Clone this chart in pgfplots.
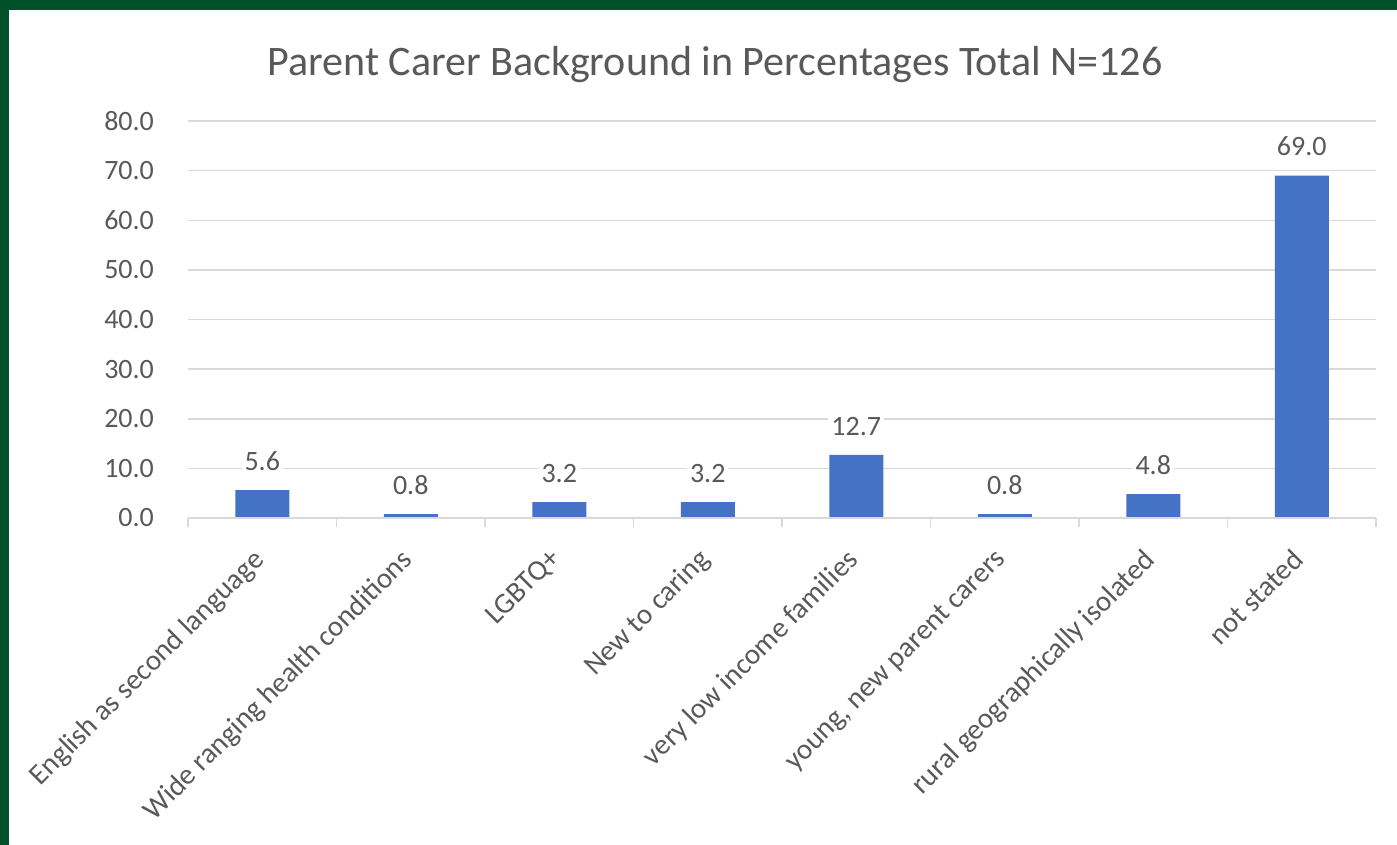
\documentclass[border=0pt]{standalone}
\usepackage{pgfplots}
\pgfplotsset{compat=1.18}
\usepackage{fontspec}
\setmainfont{Carlito}
\definecolor{bargreen}{HTML}{4472C4}
\definecolor{frame}{HTML}{00502A}
\definecolor{txt}{HTML}{595959}
\definecolor{gridgray}{HTML}{D9D9D9}
\begin{document}
\begin{tikzpicture}
\useasboundingbox (0pt,0pt) rectangle (698.5pt,-422.5pt);
\fill[frame] (0pt,0pt) rectangle (698.5pt,-422.5pt);
\fill[white] (4.5pt,-5pt) rectangle (698.5pt,-422.5pt);
\node[text=txt,font=\fontsize{21}{25}\selectfont] at (357.5pt,-32.5pt) {Parent Carer Background in Percentages Total N=126};
\begin{axis}[
  at={(94pt,-259pt)}, anchor=south west,
  scale only axis, width=594pt, height=198.5pt,
  xmin=-0.5, xmax=7.5, ymin=0, ymax=80,
  ytick={0,10,...,80},
  ymajorgrids=true, xmajorgrids=false,
  grid style={draw=gridgray,line width=0.75pt},
  axis line style={draw=none},
  every x tick label/.append style={font=\fontsize{14.5}{17}\selectfont,text=txt},
  every y tick label/.append style={font=\fontsize{14}{17}\selectfont,text=txt},
  /pgf/number format/fixed,
  /pgf/number format/fixed zerofill,
  /pgf/number format/precision=1,
  /pgf/number format/assume math mode=true,
  ytick style={draw=none},
  xtick={-0.5,0.5,...,7.5},
  x tick label as interval,
  xtick style={draw=gridgray,line width=0.75pt},
  major tick length=4.5pt,
  tick align=outside,
  xtick pos=bottom,
  xticklabels={English as second language,Wide ranging health conditions,LGBTQ+,New to caring,very low income families,{young, new parent carers},rural geographically isolated,not stated},
  xticklabel style={rotate=45,anchor=north east,inner sep=0pt,yshift=-3pt,xshift=-10.9pt},
  yticklabel style={xshift=-9pt},
  clip=false,
]
\addplot[ybar,bar width=27pt,fill=bargreen,draw=none,
  nodes near coords,
  every node near coord/.append style={font=\fontsize{14}{17}\selectfont,text=txt,fill=white,inner sep=1.5pt,yshift=8pt}]
  coordinates {(0,5.6) (1,0.8) (2,3.2) (3,3.2) (4,12.7) (5,0.8) (6,4.8) (7,69.0)};
\draw[gridgray,line width=0.75pt] (axis cs:-0.5,0) -- (axis cs:7.5,0);
\end{axis}
\end{tikzpicture}
\end{document}
